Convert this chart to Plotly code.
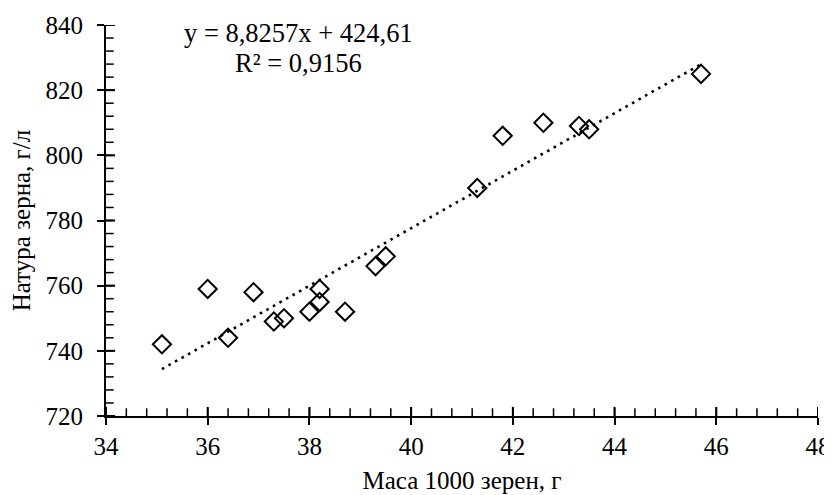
import plotly.graph_objects as go

# Data
mass_1000 = [35.1, 36.0, 36.4, 36.9, 37.3, 37.5, 38.0, 38.2, 38.2, 38.7, 39.3, 39.5,
             41.3, 41.8, 42.6, 43.3, 43.5, 45.7]
natura = [742, 759, 744, 758, 749, 750, 752, 759, 755, 752, 766, 769,
          790, 806, 810, 809, 808, 825]

slope = 8.8257
intercept = 424.61
r_squared = 0.9156

x_range = [34, 48]
y_range = [720, 840]
x_major_step, x_minor_step = 2, 0.4
y_major_step, y_minor_step = 20, 4

trend_x = [min(mass_1000), max(mass_1000)]
trend_y = [slope * v + intercept for v in trend_x]

FONT = "Liberation Serif"


def tick_positions(rng, step):
    n = int(round((rng[1] - rng[0]) / step))
    return [round(rng[0] + i * step, 6) for i in range(n + 1)]


fig = go.Figure()
fig.add_trace(go.Scatter(
    x=trend_x, y=trend_y, mode="lines",
    line=dict(color="black", width=2.6, dash="2.6px,4.9px"),
    showlegend=False, hoverinfo="skip"))
fig.add_trace(go.Scatter(
    x=mass_1000, y=natura, mode="markers",
    marker=dict(symbol="diamond-open", size=14, color="black",
                line=dict(color="black", width=2)),
    showlegend=False))

# inner tick marks: line markers sitting on the axes, half clipped by the plot area
for step, size, width in [(x_minor_step, 11, 1.5), (x_major_step, 13, 2)]:
    xs = tick_positions(x_range, step)
    fig.add_trace(go.Scatter(
        x=xs, y=[y_range[0]] * len(xs), mode="markers", cliponaxis=True,
        marker=dict(symbol="line-ns", size=size, color="black",
                    line=dict(color="black", width=width)),
        showlegend=False, hoverinfo="skip"))
for step, size, width in [(y_minor_step, 11, 1.5), (y_major_step, 13, 2)]:
    ys = tick_positions(y_range, step)
    fig.add_trace(go.Scatter(
        x=[x_range[0]] * len(ys), y=ys, mode="markers", cliponaxis=True,
        marker=dict(symbol="line-ew", size=size, color="black",
                    line=dict(color="black", width=width)),
        showlegend=False, hoverinfo="skip"))

axis_common = dict(showgrid=False, zeroline=False, showline=True, automargin=False,
                   linecolor="black", linewidth=2, ticks="outside",
                   ticklen=7, tickwidth=2, tickcolor="black", tickmode="linear",
                   tickfont=dict(family=FONT, size=25, color="black"),
                   layer="above traces")

fig.update_layout(
    width=824, height=487,
    margin=dict(l=98, r=14, t=17, b=79),
    paper_bgcolor="white", plot_bgcolor="white",
    showlegend=False,
    font=dict(family=FONT, size=25, color="black"),
    xaxis=dict(range=x_range, tick0=x_range[0], dtick=x_major_step,
               title=dict(text="Маса 1000 зерен, г", standoff=12,
                          font=dict(family=FONT, size=25)),
               **axis_common),
    yaxis=dict(range=y_range, tick0=y_range[0], dtick=y_major_step,
               ticklabelstandoff=9,
               title=dict(text="Натура зерна, г/л", standoff=8,
                          font=dict(family=FONT, size=25)),
               **axis_common),
)

fig.add_annotation(xref="paper", yref="paper", x=0.27, y=0.98,
                   text=f"y = {slope:.4f}x + {intercept:.2f}".replace(".", ","),
                   showarrow=False, xanchor="center", yanchor="middle",
                   font=dict(family=FONT, size=26.5, color="black"))
fig.add_annotation(xref="paper", yref="paper", x=0.27, y=0.903,
                   text=f"R² = {r_squared:.4f}".replace(".", ","),
                   showarrow=False, xanchor="center", yanchor="middle",
                   font=dict(family=FONT, size=26.5, color="black"))

fig.write_html("out.html")
